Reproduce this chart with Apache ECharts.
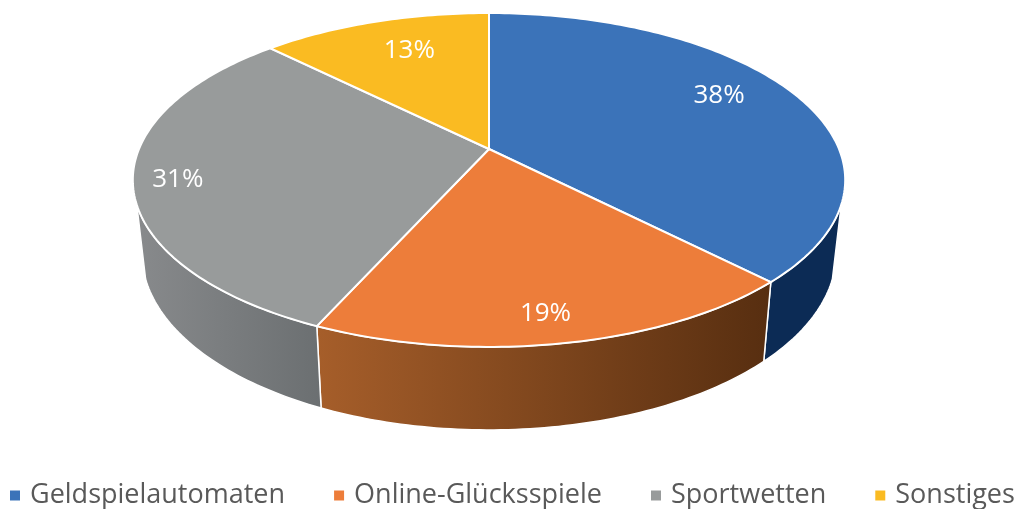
<!DOCTYPE html>
<html>
<head>
<meta charset="utf-8">
<style>
  html, body { margin: 0; padding: 0; background: #fff; }
  #chart { width: 1017px; height: 509px; }
</style>
<script src="https://cdn.jsdelivr.net/npm/echarts@6/dist/echarts.min.js"></script>
</head>
<body>
<div id="chart"></div>
<script>
// data (labels show them rounded)
const categories = ['Geldspielautomaten', 'Online-Glücksspiele', 'Sportwetten', 'Sonstiges'];
const shares = [37.7, 19, 30.8, 12.5];

// colors
const topColors = ['#3b73b9', '#ed7d3a', '#989b9b', '#fabb22'];
const sideColors = [
  ['#0c2b55', '#0c2b55'],
  ['#a65e2a', '#572e10'],
  ['#888a8c', '#6b6f71'],
  ['#8a6a10', '#8a6a10']
];

// label placement: radius fraction on the slice bisector + nudge
const labelRadius = [0.75, 0.86, 0.88, 0.7];
const labelNudgeX = [-1, -6, 1, 4];
const labelNudgeY = [-10, 3, 4, -5];

// perspective disc layout
const cx = 489, cy = 149, rx = 350, ry = 161.2, persp = 0.1856;
const sideFrom = 109, sideTo = 251;
const total = shares.reduce((a, b) => a + b, 0);

function project(deg, r) {
  const t = deg * Math.PI / 180;
  const w = 1 + persp * r * Math.cos(t);
  return [cx + rx * r * Math.sin(t) / w, cy - ry * r * Math.cos(t) / w];
}

function projectBottom(deg) {
  const p = project(deg, 1);
  const depth = 70 - 13 * Math.cos(deg * Math.PI / 180);
  return [cx + (p[0] - cx) * 0.975, p[1] + depth];
}

function arc(from, to, fn) {
  const pts = [];
  const n = Math.max(2, Math.ceil(Math.abs(to - from)));
  for (let i = 0; i <= n; i++) {
    pts.push(fn(from + (to - from) * i / n));
  }
  return pts;
}

function sliceRange(idx) {
  const before = shares.slice(0, idx).reduce((a, b) => a + b, 0);
  const start = before / total * 360;
  return [start, start + shares[idx] / total * 360];
}

function renderSlice(idx) {
  return function () {
    const [start, end] = sliceRange(idx);
    const children = [];

    // visible side wall
    const a = Math.max(start, sideFrom), b = Math.min(end, sideTo);
    if (b > a) {
      const upper = arc(a, b, d => project(d, 1));
      const lower = arc(b, a, projectBottom);
      children.push({
        type: 'polygon',
        shape: { points: upper.concat(lower) },
        style: {
          fill: new echarts.graphic.LinearGradient(0, 0, 1, 0, [
            { offset: 0, color: sideColors[idx][0] },
            { offset: 1, color: sideColors[idx][1] }
          ]),
          stroke: '#fff',
          lineWidth: 1.5
        }
      });
    }

    // top face
    const rim = arc(start, end, d => project(d, 1));
    children.push({
      type: 'polygon',
      shape: { points: [[cx, cy]].concat(rim) },
      style: { fill: topColors[idx], stroke: '#fff', lineWidth: 2 }
    });

    // percent label
    const lp = project((start + end) / 2, labelRadius[idx]);
    children.push({
      type: 'text',
      z2: 10,
      style: {
        text: Math.round(shares[idx]) + '%',
        x: lp[0] + labelNudgeX[idx],
        y: lp[1] + labelNudgeY[idx],
        fill: '#fff',
        font: '26px "Open Sans"',
        align: 'center',
        verticalAlign: 'middle'
      }
    });

    return { type: 'group', children: children };
  };
}

const chart = echarts.init(document.getElementById('chart'));
chart.setOption({
  animation: false,
  color: topColors,
  legend: {
    data: categories,
    left: 5,
    top: 477,
    width: 1100,
    icon: 'rect',
    itemWidth: 10,
    itemHeight: 10,
    itemGap: 49,
    textStyle: { color: '#595959', fontFamily: 'Open Sans', fontSize: 27, padding: [0, 0, 0, 5] }
  },
  series: categories.map((name, i) => ({
    type: 'custom',
    name: name,
    coordinateSystem: 'none',
    silent: true,
    itemStyle: { color: topColors[i] },
    data: [shares[i]],
    renderItem: renderSlice(i)
  }))
});
</script>
</body>
</html>
